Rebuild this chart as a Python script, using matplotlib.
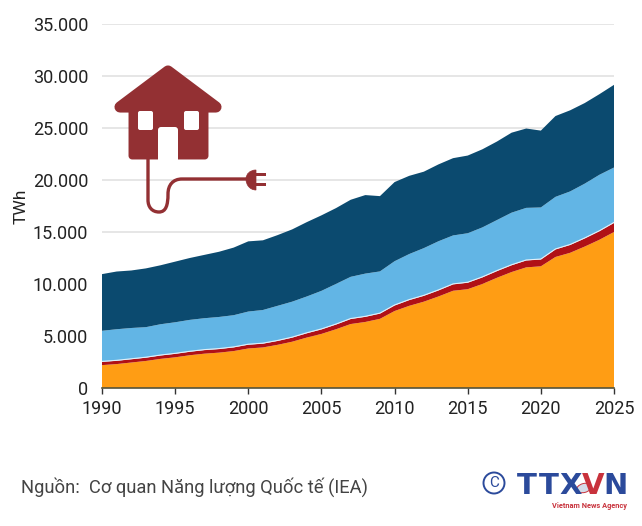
#!/usr/bin/env python3
import matplotlib
matplotlib.use("Agg")
import matplotlib.pyplot as plt
import numpy as np
from matplotlib.patches import PathPatch, Polygon, Rectangle, FancyBboxPatch, Circle, Ellipse
from matplotlib.path import Path

plt.rcParams["font.family"] = ["Roboto", "DejaVu Sans"]

years = list(range(1990, 2026))
orange = [2200, 2300, 2450, 2600, 2800, 2950, 3150, 3300, 3400, 3550, 3800, 3900,
          4150, 4450, 4850, 5200, 5650, 6150, 6350, 6650, 7400, 7900, 8300, 8800,
          9350, 9500, 10000, 10600, 11150, 11600, 11700, 12600, 13000, 13600, 14250, 15000]
red = [320, 320, 320, 320, 330, 340, 340, 350, 350, 360, 370, 370,
       380, 400, 420, 440, 460, 490, 500, 510, 540, 560, 570, 590,
       620, 630, 640, 650, 660, 670, 660, 730, 760, 790, 830, 880]
light_blue = [2980, 3030, 3000, 2930, 3000, 3030, 3060, 3060, 3080, 3090, 3180, 3230,
              3370, 3450, 3530, 3700, 3900, 4050, 4150, 4050, 4250, 4420, 4580, 4720,
              4700, 4750, 4800, 4900, 5050, 5050, 5000, 5050, 5140, 5260, 5420, 5320]
dark_blue = [5450, 5550, 5530, 5650, 5670, 5830, 5950, 6090, 6270, 6500, 6750, 6700,
             6800, 6950, 7150, 7260, 7290, 7410, 7550, 7240, 7610, 7520, 7350, 7390,
             7430, 7470, 7510, 7550, 7690, 7630, 7390, 7770, 7800, 7750, 7750, 7950]
colors = ["#FF9D14", "#B01116", "#62B5E5", "#0B4A6F"]
y_ticks = [0, 5000, 10000, 15000, 20000, 25000, 30000, 35000]
y_labels = ["0", "5.000", "10.000", "15.000", "20.000", "25.000", "30.000", "35.000"]
x_ticks = [1990, 1995, 2000, 2005, 2010, 2015, 2020, 2025]

W, H = 642, 526
fig = plt.figure(figsize=(W / 100, H / 100), dpi=100, facecolor="white")
ax = fig.add_axes([102 / W, 1 - 388 / H, 512 / W, 364 / H])
ax.set_xlim(1990, 2025)
ax.set_ylim(0, 35000)

ax.yaxis.grid(True, color="#E2E2E2", lw=1.2)
ax.set_axisbelow(True)
ax.stackplot(years, orange, red, light_blue, dark_blue, colors=colors, lw=0, zorder=2)

# thin white edge on top of the red band
top_red = np.array(orange) + np.array(red)
ax.plot(years, top_red + 40, color="white", lw=0.8, alpha=0.8, zorder=3)

for s in ["top", "left", "right"]:
    ax.spines[s].set_visible(False)
ax.spines["bottom"].set_color("#55533A")
ax.spines["bottom"].set_linewidth(1.2)
ax.spines["bottom"].set_zorder(5)
ax.set_xticks(x_ticks)
ax.set_yticks(y_ticks)
ax.set_yticklabels(y_labels)
ax.tick_params(axis="x", length=4, width=1, color="#333333", labelsize=13, labelcolor="#222222", pad=5)
ax.tick_params(axis="y", length=0, labelsize=13, labelcolor="#222222", pad=10)
ax.set_ylabel("TWh", fontsize=12.5, color="#222222", labelpad=3)

# overlay in pixel coordinates for the icon, source line and logo
ov = fig.add_axes([0, 0, 1, 1], zorder=10)
ov.set_xlim(0, W)
ov.set_ylim(H, 0)
ov.axis("off")
ov.patch.set_alpha(0)

maroon = "#933033"
roof = Polygon([(120, 107), (168, 71), (216, 107)],
               closed=True, fc=maroon, ec=maroon, lw=8, joinstyle="round")
ov.add_patch(roof)
ov.add_patch(FancyBboxPatch((132, 105), 73, 51, boxstyle="round,pad=0,rounding_size=0.1",
                            fc=maroon, ec=maroon, lw=5, joinstyle="round"))
ov.add_patch(Rectangle((158, 131), 20, 30, fc="white", ec="none"))
ov.add_patch(FancyBboxPatch((158, 127), 20, 10, boxstyle="round,pad=0,rounding_size=3", fc="white", ec="none"))
for wx in (138, 184):
    ov.add_patch(FancyBboxPatch((wx, 111), 15, 19, boxstyle="round,pad=0,rounding_size=2", fc="white", ec="none"))

cord = Path([(148, 158), (148, 200), (148, 207), (152, 212), (159, 212),
             (166, 212), (168, 205), (168, 194), (168, 185), (173, 179), (182, 179), (247, 179)],
            [Path.MOVETO, Path.LINETO, Path.CURVE4, Path.CURVE4, Path.CURVE4,
             Path.CURVE4, Path.CURVE4, Path.CURVE4, Path.CURVE4, Path.CURVE4, Path.CURVE4, Path.LINETO])
ov.add_patch(PathPatch(cord, fc="none", ec=maroon, lw=2.4, capstyle="round"))
plug = Path([(256, 170), (250, 170), (246, 174), (246, 179), (246, 185), (250, 190), (256, 190), (256, 170)],
            [Path.MOVETO, Path.CURVE4, Path.CURVE4, Path.CURVE4, Path.CURVE4, Path.CURVE4, Path.CURVE4, Path.CLOSEPOLY])
ov.add_patch(PathPatch(plug, fc=maroon, ec=maroon, lw=0.5))
ov.add_patch(Rectangle((255, 173), 11, 3.4, fc=maroon, ec="none"))
ov.add_patch(Rectangle((255, 183), 11, 3.4, fc=maroon, ec="none"))

ov.text(21, 487, "Nguồn:  Cơ quan Năng lượng Quốc tế (IEA)", fontsize=13.2, color="#444444", va="center", ha="left")

# TTXVN logo
navy = "#2B4A9B"
logo_red = "#C8323C"
ov.add_patch(Circle((494, 483), 10.5, fc="none", ec=navy, lw=1.4))
ov.text(494, 483, "C", fontsize=11, color=navy, ha="center", va="center")
for letter, lx, col in zip("TTXVN", (527, 549, 571, 593.5, 616), (navy, navy, navy, logo_red, navy)):
    ov.text(lx, 494.5, letter, fontsize=21, color=col, ha="center", va="baseline",
            fontweight="bold", family="DejaVu Sans")
ov.add_patch(Ellipse((584, 488), 15, 9, angle=-15, fc="#D5DCE8", ec=logo_red, lw=0.7))
ov.text(590, 506, "Vietnam News Agency", fontsize=5.3, color=logo_red, ha="center", va="center", fontweight="bold")

fig.savefig("out.png", dpi=100, facecolor="white")
